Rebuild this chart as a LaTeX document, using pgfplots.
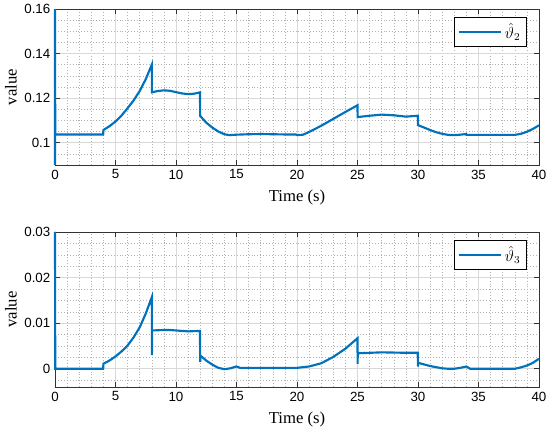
\documentclass[border=0pt]{standalone}
\usepackage{fontspec}
\setmainfont{Liberation Serif}
\setsansfont{Liberation Sans}
\usepackage{pgfplots}
\pgfplotsset{compat=1.18}
\definecolor{mblue}{rgb}{0,0.447,0.741}
\pgfplotsset{
 myax/.style={
  width=363pt, scale only axis, clip=false,
  xmin=0,xmax=40, xtick={0,5,...,40},
  minor x tick num=4,
  grid=both,
  major grid style={color=black!15, line width=0.5pt},
  minor grid style={color=black!30, dash pattern=on 0.6pt off 1.6pt, line width=0.4pt},
  axis line style={color=black!80, line width=0.5pt},
  tick style={color=black!80, line width=0.5pt},
  tick align=inside, major tick length=4pt, minor tick length=0pt,
  tick label style={font=\sffamily\fontsize{10}{12}\selectfont},
  /pgf/number format/assume math mode=true,
  /pgf/number format/fixed, /pgf/number format/precision=3,
  scaled y ticks=false,
  xlabel={Time (s)}, ylabel={value},
  every axis x label/.style={at={(axis description cs:0.5,-0.21)}, anchor=center, font=\fontsize{12.5}{14}\selectfont},
  every axis y label/.style={at={(axis description cs:-0.091,0.5)}, rotate=90, anchor=center, font=\fontsize{12.5}{14}\selectfont},
  legend style={at={(0.975,0.95)},anchor=north east, draw=black, line width=0.5pt, font=\fontsize{12}{14}\selectfont, inner sep=2.5pt},
  legend cell align=left,
  legend image code/.code={\draw[#1] (0pt,0pt) -- (32pt,0pt);},
 }}
\begin{document}
\begin{tikzpicture}
\useasboundingbox (0,0) rectangle (412.5pt,325.5pt);
\begin{axis}[myax, height=117pt, at={(41.25pt,201.75pt)}, anchor=south west,
  ymin=0.09, ymax=0.16, ytick={0.1,0.12,0.14,0.16},
  minor ytick={0.095,0.105,0.11,0.115,0.125,0.13,0.135,0.145,0.15,0.155}]
\addplot[color=mblue, line width=1.6pt] coordinates {
(0,0.09) (0,0.16) (0.02,0.1037) (3.98,0.1037) (4,0.1057) (4.5,0.1074) (5,0.1095) (5.5,0.1122) (6,0.1155) (6.5,0.119) (7,0.1232) (7.5,0.1285) (8,0.135) (8.01,0.1226) (8.5,0.1232) (9,0.1235) (9.5,0.1233) (10,0.1227) (10.5,0.1221) (11,0.1218) (11.5,0.122) (11.98,0.1226) (12,0.112) (12.5,0.109) (13,0.1068) (13.5,0.105) (14,0.1038) (14.4,0.1034) (15,0.1036) (16,0.1038) (17,0.1039) (18,0.1038) (19,0.1037) (19.9,0.1037) (20,0.1034) (20.5,0.1036) (21,0.1048) (22,0.1076) (23,0.1107) (24,0.1138) (25,0.1168) (25.01,0.1115) (26,0.1121) (27,0.1126) (28,0.1123) (29,0.1117) (29.98,0.1121) (30,0.1079) (30.5,0.1068) (31,0.1057) (31.5,0.1047) (32,0.104) (32.5,0.1035) (33,0.1034) (33.5,0.1036) (33.98,0.1039) (34,0.1035) (35,0.1035) (36,0.1035) (37,0.1035) (38,0.1035) (38.5,0.104) (39,0.1049) (39.5,0.1062) (40,0.1078)
};
\addlegendentry{$\hat{\vartheta}_2$}
\end{axis}
\begin{axis}[myax, height=116.25pt, at={(41.25pt,35.25pt)}, anchor=south west,
  ymin=-0.004, ymax=0.03, ytick={0,0.01,0.02,0.03},
  minor ytick={-0.0025,0.0025,0.005,0.0075,0.0125,0.015,0.0175,0.0225,0.025,0.0275}]
\addplot[color=mblue, line width=1.6pt] coordinates {
(0,0.03) (0.02,0) (3.98,0) (4,0.0011) (4.5,0.0018) (5,0.0027) (5.5,0.0038) (6,0.0051) (6.5,0.0069) (7,0.0091) (7.5,0.0121) (8,0.0157) (8.01,0.003) (8.02,0.0084) (9,0.0085) (9.5,0.0085) (10,0.0084) (11,0.0082) (11.98,0.0083) (12,0.0015) (12.01,0.0029) (12.5,0.0018) (13,0.0009) (13.5,0.0002) (14,-0.0001) (14.5,0.0001) (15,0.0005) (15.3,0.0002) (17,0.0002) (20,0.0002) (21,0.0005) (22,0.0012) (23,0.0026) (24,0.0044) (25,0.0067) (25.01,0.0011) (25.02,0.0034) (27,0.0036) (29,0.0035) (29.98,0.0035) (30,0.0005) (30.01,0.0013) (31,0.0006) (32,0.0001) (32.5,0) (33,0) (33.5,0.0002) (34,0.0005) (34.3,0) (38,0) (38.5,0.0003) (39,0.0007) (39.5,0.0013) (40,0.0022)
};
\addlegendentry{$\hat{\vartheta}_3$}
\end{axis}
\end{tikzpicture}
\end{document}
